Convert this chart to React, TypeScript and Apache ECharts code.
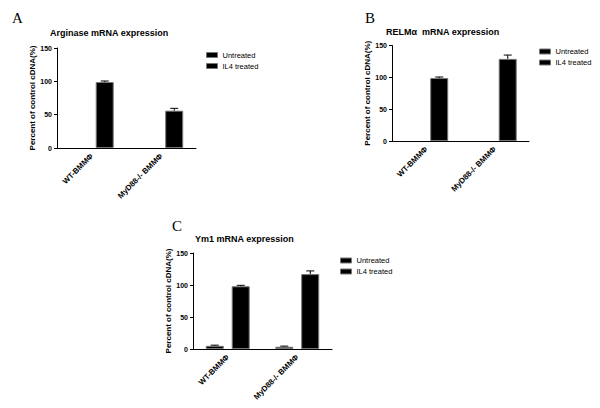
import React, { useEffect, useRef } from "react";
import * as echarts from "echarts";

// ---- data ----
const categories = ["WT-BMMΦ", "MyD88-/- BMMΦ"];
const seriesNames = ["Untreated", "IL4 treated"];
const yTicks = [0, 50, 100, 150];

const argUntreated = [0, 0];
const argUntreatedErr = [0, 0];
const argIL4 = [99, 56];
const argIL4Err = [1.5, 3.5];

const relmUntreated = [0, 0];
const relmUntreatedErr = [0, 0];
const relmIL4 = [99, 129];
const relmIL4Err = [1.5, 6];

const ym1Untreated = [5, 3.5];
const ym1UntreatedErr = [1, 1];
const ym1IL4 = [98, 117];
const ym1IL4Err = [1.5, 5];

const panelTitles = ["Arginase mRNA expression", "RELMα  mRNA expression", "Ym1 mRNA expression"];
const panelLetters = ["A", "B", "C"];
const yAxisName = "Percent of control cDNA(%)";

const panelValues = [
  [argUntreated, argIL4],
  [relmUntreated, relmIL4],
  [ym1Untreated, ym1IL4],
];
const panelErrors = [
  [argUntreatedErr, argIL4Err],
  [relmUntreatedErr, relmIL4Err],
  [ym1UntreatedErr, ym1IL4Err],
];

// ---- layout ----
const layouts = [
  { grid: { left: 57, top: 48, width: 139, height: 100 }, title: { left: 50, top: 27 }, letter: { left: 12, top: 10 }, legend: { left: 206, top: 49.5 } },
  { grid: { left: 392, top: 45.5, width: 137, height: 95.5 }, title: { left: 386, top: 26 }, letter: { left: 365, top: 10 }, legend: { left: 539, top: 46 } },
  { grid: { left: 193, top: 253, width: 139, height: 96 }, title: { left: 195, top: 233 }, letter: { left: 172, top: 218 }, legend: { left: 340, top: 255 } },
];

const SANS = "'Liberation Sans', Arial, sans-serif";
const SERIF = "'Liberation Serif', 'Times New Roman', serif";
const BAR_W = 18;
const BAR_OFF = 13;
const barStyle = { color: "#000", borderColor: "#777", borderWidth: 1 };

export default function App() {
  const ref = useRef<HTMLDivElement>(null);
  useEffect(() => {
    if (!ref.current) return;
    const chart = echarts.init(ref.current, undefined, { renderer: "svg" });
    const grids: any[] = [];
    const xAxes: any[] = [];
    const yAxes: any[] = [];
    const series: any[] = [];
    const titles: any[] = [];
    const legends: any[] = [];

    layouts.forEach((L, i) => {
      grids.push({ ...L.grid, containLabel: false });
      xAxes.push({
        type: "category",
        gridIndex: i,
        data: categories,
        axisLine: { lineStyle: { color: "#000", width: 1 } },
        axisTick: { alignWithLabel: true, length: 3, lineStyle: { color: "#000" } },
        axisLabel: { rotate: 45, interval: 0, fontSize: 7.8, fontWeight: "bold", color: "#000", fontFamily: SANS, margin: 7 },
      });
      yAxes.push({
        type: "value",
        gridIndex: i,
        min: yTicks[0],
        max: yTicks[yTicks.length - 1],
        interval: yTicks[1] - yTicks[0],
        axisLine: { show: true, lineStyle: { color: "#000", width: 1 } },
        axisTick: { show: true, length: 3, lineStyle: { color: "#000" } },
        splitLine: { show: false },
        axisLabel: { fontSize: 7, fontWeight: "bold", color: "#000", fontFamily: SANS, margin: 5 },
        name: yAxisName,
        nameLocation: "middle",
        nameRotate: 90,
        nameGap: 13,
        nameTextStyle: { fontSize: 8, fontWeight: "bold", color: "#000", fontFamily: SANS },
      });
      seriesNames.forEach((name, s) => {
        series.push({
          type: "bar",
          name,
          xAxisIndex: i,
          yAxisIndex: i,
          data: panelValues[i][s].map((v) => (v === 0 ? { value: v, itemStyle: { borderWidth: 0 } } : v)),
          barWidth: BAR_W,
          barGap: "44%",
          itemStyle: barStyle,
        });
      });
      seriesNames.forEach((name, s) => {
        const off = s === 0 ? -BAR_OFF : BAR_OFF;
        series.push({
          type: "custom",
          xAxisIndex: i,
          yAxisIndex: i,
          z: 5,
          data: panelValues[i][s].map((v, j) => [j, v, panelErrors[i][s][j]]),
          renderItem: (params: any, api: any) => {
            const idx = api.value(0);
            const v = api.value(1);
            const e = api.value(2);
            if (!e) return null;
            const p0 = api.coord([idx, v]);
            const p1 = api.coord([idx, v + e]);
            const x = p0[0] + off;
            return {
              type: "group",
              children: [
                { type: "line", shape: { x1: x, y1: p0[1], x2: x, y2: p1[1] }, style: { stroke: "#000", lineWidth: 1 } },
                { type: "line", shape: { x1: x - 4, y1: p1[1], x2: x + 4, y2: p1[1] }, style: { stroke: "#000", lineWidth: 1 } },
              ],
            };
          },
        });
      });
      titles.push({
        text: panelTitles[i],
        left: L.title.left,
        top: L.title.top,
        padding: 0,
        textStyle: { fontSize: 9, fontWeight: "bold", fontFamily: SANS, color: "#000", lineHeight: 12 },
      });
      titles.push({
        text: panelLetters[i],
        left: L.letter.left,
        top: L.letter.top,
        padding: 0,
        textStyle: { fontSize: 15, fontWeight: "normal", fontFamily: SERIF, color: "#000", lineHeight: 15 },
      });
      legends.push({
        data: seriesNames.map((n) => ({ name: n, textStyle: { color: "#000" }, itemStyle: barStyle })),
        orient: "vertical",
        left: L.legend.left,
        top: L.legend.top,
        padding: 0,
        itemWidth: 11,
        itemHeight: 5,
        itemGap: 0,
        icon: "rect",
        selectedMode: false,
        inactiveColor: "#000",
        textStyle: { fontSize: 7.5, lineHeight: 11, color: "#000", fontFamily: SANS },
      });
    });

    chart.setOption({
      animation: false,
      backgroundColor: "#fff",
      grid: grids,
      xAxis: xAxes,
      yAxis: yAxes,
      series,
      title: titles,
      legend: legends,
    });
    return () => chart.dispose();
  }, []);
  return <div ref={ref} style={{ position: "absolute", left: 0, top: 0, width: 600, height: 408, background: "#fff" }} />;
}
